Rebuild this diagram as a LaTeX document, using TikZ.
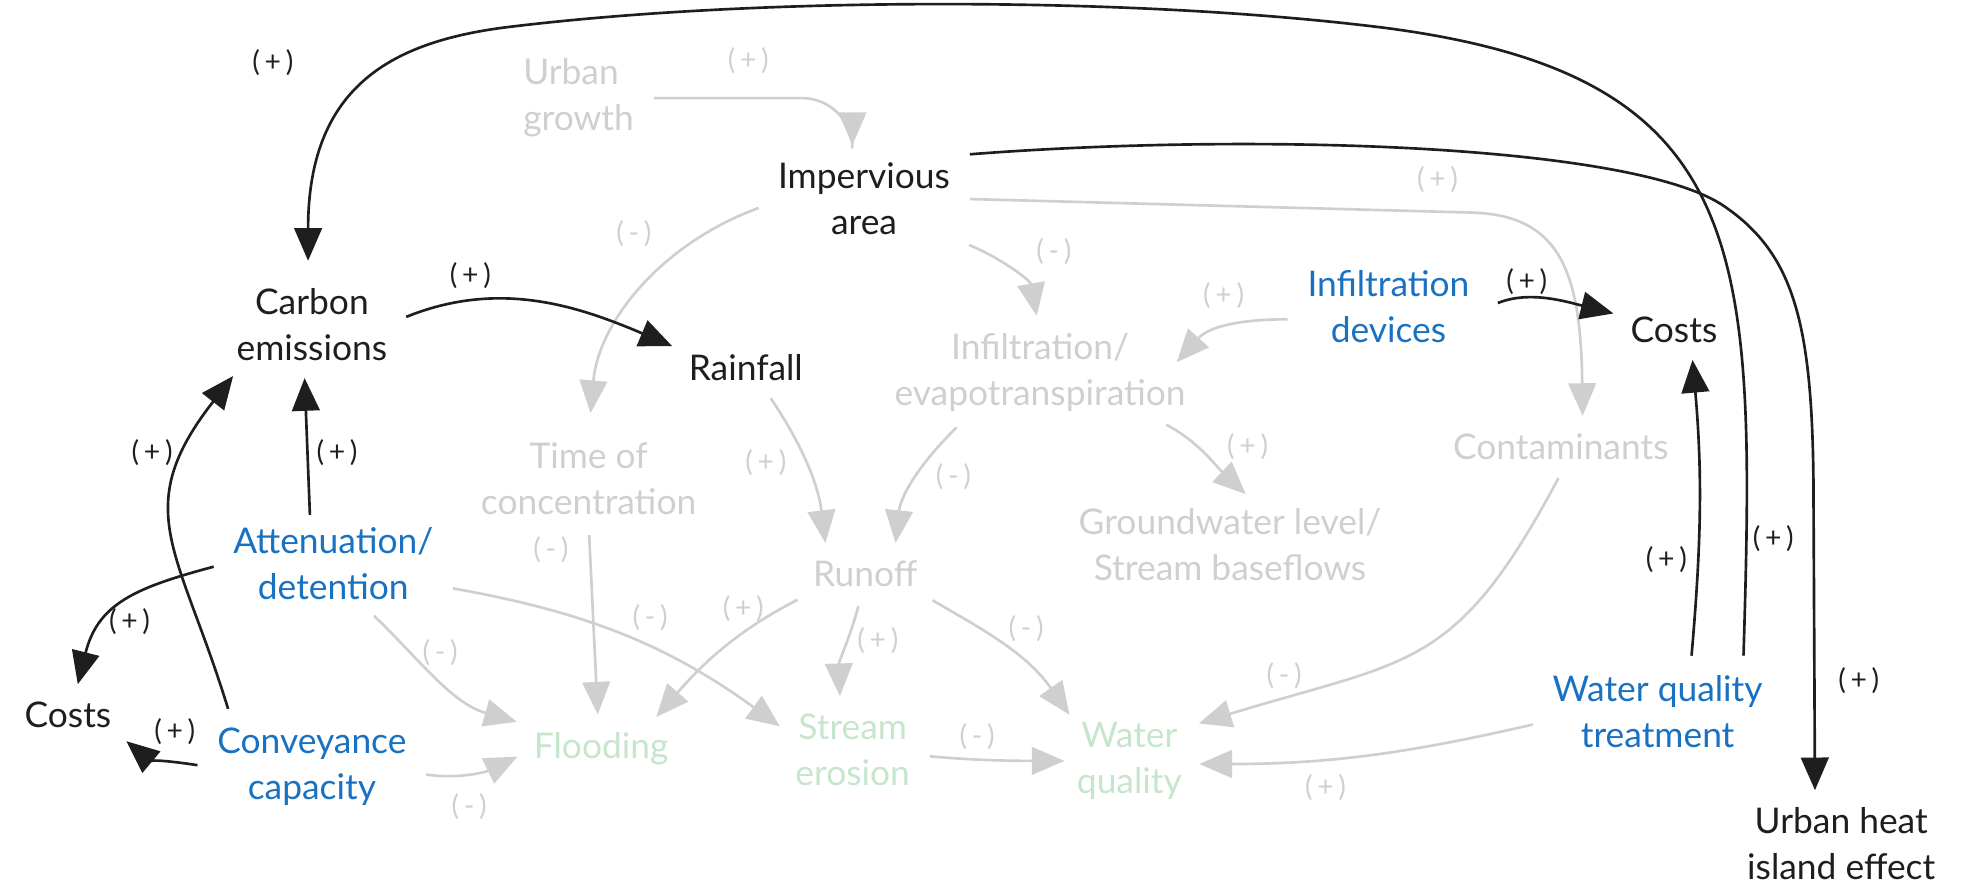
\documentclass[tikz,border=0pt]{standalone}
\usepackage{fontspec}
\setmainfont{Lato}
\usetikzlibrary{arrows.meta,calc}

\definecolor{ink}{HTML}{1E1E1E}
\definecolor{fade}{HTML}{CFCFCF}
\definecolor{lever}{HTML}{1971C2}
\definecolor{mint}{RGB}{198,230,203}

\tikzset{
  var/.style={font=\fontsize{20}{26}\selectfont, align=center, inner sep=4pt, text=ink},
  fadevar/.style={var, text=fade},
  levervar/.style={var, text=lever},
  outcome/.style={var, text=mint},
  sign/.style={font=\fontsize{16}{18}\selectfont, inner sep=0pt, text=ink},
  fadesign/.style={sign, text=fade},
  link/.style={draw=ink, line width=1.5pt, -{Triangle[length=0.65cm,width=0.55cm]},
    shorten >=0.2cm, shorten <=0.25cm},
  fadelink/.style={link, draw=fade}
}

\begin{document}
\begin{tikzpicture}[x=0.025cm, y=0.025cm]
      \useasboundingbox (0,0) rectangle (1568,-710);

      % 1. the system variables
      \node[fadevar, align=left] (ug) at (460,-78) {Urban\\growth};
      \node[var] (imp) at (687,-158) {Impervious\\area};
      \node[var] (carb) at (248,-258) {Carbon\\emissions};
      \node[var] (rain) at (593,-292) {Rainfall};
      \node[fadevar] (infev) at (827,-296) {Infiltration/\\evapotranspiration};
      \node[var] (costr) at (1331,-262) {Costs};
      \node[fadevar] (cont) at (1241,-355) {Contaminants};
      \node[fadevar] (toc) at (468,-381) {Time of\\concentration};
      \node[fadevar] (gw) at (978,-433) {Groundwater level/\\Stream baseflows};
      \node[fadevar] (run) at (688,-456) {Runoff};
      \node[var] (costl) at (54,-568) {Costs};
      \node[var] (uhi) at (1464,-671) {Urban heat\\island effect};

      % 2. the levers (blue)
      \node[levervar] (infd) at (1104,-244) {Infiltration\\devices};
      \node[levervar] (att) at (265,-448) {Attenuation/\\detention};
      \node[levervar] (conv) at (248,-610) {Conveyance\\capacity};
      \node[levervar] (wqt) at (1318,-566) {Water quality\\treatment};

      % 3. the outcomes (green)
      \node[outcome] (flood) at (478,-595) {Flooding};
      \node[outcome] (ero) at (678,-596) {Stream\\erosion};
      \node[outcome] (wq) at (898,-605) {Water\\quality};

      % 4. grey links
      \draw[fadelink, rounded corners=1cm] (ug.east) -| (imp.105);
      \draw[fadelink, shorten >=0.45cm] (imp.183) to[out=200,in=85] (toc.north);
      \draw[fadelink] (imp.-24) to[out=-22,in=100] (infev.92);
      \draw[fadelink] (imp.east) -- (1170,-169) .. controls (1240,-171) and (1257,-215) .. (cont.43);
      \draw[fadelink, shorten >=0pt] (infd.188) to[out=180,in=48] ($(infev.north east)+(-13,-29)$);
      \draw[fadelink] (infev.212) to[out=224,in=84] (run.35);
      \draw[fadelink] (infev.-22) to[out=-28,in=137] (gw.62);
      \draw[fadelink] (rain.-49) to[out=-56,in=97] (run.152);
      \draw[fadelink] (toc.south) -- (flood.97);
      \draw[fadelink] (run.200) to[out=207,in=49] (flood.26);
      \draw[fadelink] (run.-100) to[out=-105,in=92] (ero.106);
      \draw[fadelink, shorten >=0pt] (run.-20) to[out=-30,in=125] (wq.north west);
      \draw[fadelink, shorten >=0.1cm] (ero.-5) to[out=-5,in=180] (wq.west);
      \draw[fadelink] (cont.-80) to[out=-118,in=17,looseness=1.3] (wq.30);
      \draw[fadelink] (wqt.185) to[out=193,in=0] (wq.-3);
      \draw[fadelink] (att.-12) to[out=-10,in=144] (ero.165);
      \draw[fadelink] (att.-54) to[out=-44,in=164] (flood.north west);
      \draw[fadelink] (conv.-3) to[out=-9,in=206] (flood.183);

      % 5. black links
      \draw[link] (carb.2) to[out=22,in=157] (rain.165);
      \draw[link, shorten <=0.45cm] (infd.-3) to[out=22,in=166] (costr.165);
      \draw[link] (wqt.53) to[out=85,in=-85] (costr.-49);
      \draw[link, shorten >=0.4cm] (wqt.27) .. controls (1396,-200) and (1395,-60) .. (1100,-22)
        .. controls (900,3) and (600,3) .. (400,-22)
        .. controls (310,-34) and (245,-70) .. (carb.95);
      \draw[link] (imp.north east) .. controls (1000,-105) and (1300,-115) .. (1371,-164)
        .. controls (1428,-203) and (1442,-260) .. (1442,-400) -- (uhi.121);
      \draw[link, shorten <=0.1cm] (att.118) -- (carb.-100);
      \draw[link] (conv.150) to[out=107,in=232,looseness=1.3] (carb.211);
      \draw[link] (att.west) to[out=195,in=76,looseness=1.2] (costl.70);
      \draw[link] (conv.west) to[out=171,in=-40] (costl.south east);

      % 6. polarity signs
      \node[fadesign] (s1) at (595,-48) {(\,+\,)};
      \node[fadesign] (s2) at (504,-186) {(\,-\,)};
      \node[fadesign] (s3) at (838,-200) {(\,-\,)};
      \node[fadesign] (s4) at (1143,-143) {(\,+\,)};
      \node[fadesign] (s5) at (973,-235) {(\,+\,)};
      \node[sign] (s6) at (1214,-224) {(\,+\,)};
      \node[fadesign] (s7) at (758,-379) {(\,-\,)};
      \node[fadesign] (s8) at (992,-355) {(\,+\,)};
      \node[fadesign] (s9) at (609,-368) {(\,+\,)};
      \node[fadesign] (s10) at (438,-437) {(\,-\,)};
      \node[fadesign] (s11) at (591,-484) {(\,+\,)};
      \node[fadesign] (s12) at (698,-509) {(\,+\,)};
      \node[fadesign] (s13) at (816,-500) {(\,-\,)};
      \node[fadesign] (s14) at (777,-586) {(\,-\,)};
      \node[fadesign] (s15) at (1021,-537) {(\,-\,)};
      \node[fadesign] (s16) at (1054,-626) {(\,+\,)};
      \node[fadesign] (s17) at (517,-491) {(\,-\,)};
      \node[fadesign] (s18) at (350,-519) {(\,-\,)};
      \node[fadesign] (s19) at (373,-641) {(\,-\,)};
      \node[sign] (s20) at (374,-219) {(\,+\,)};
      \node[sign] (s21) at (268,-360) {(\,+\,)};
      \node[sign] (s22) at (121,-360) {(\,+\,)};
      \node[sign] (s23) at (103,-494) {(\,+\,)};
      \node[sign] (s24) at (139,-582) {(\,+\,)};
      \node[sign] (s25) at (1325,-445) {(\,+\,)};
      \node[sign] (s26) at (1410,-428) {(\,+\,)};
      \node[sign] (s27) at (217,-50) {(\,+\,)};
      \node[sign] (s28) at (1478,-541) {(\,+\,)};
\end{tikzpicture}
\end{document}
